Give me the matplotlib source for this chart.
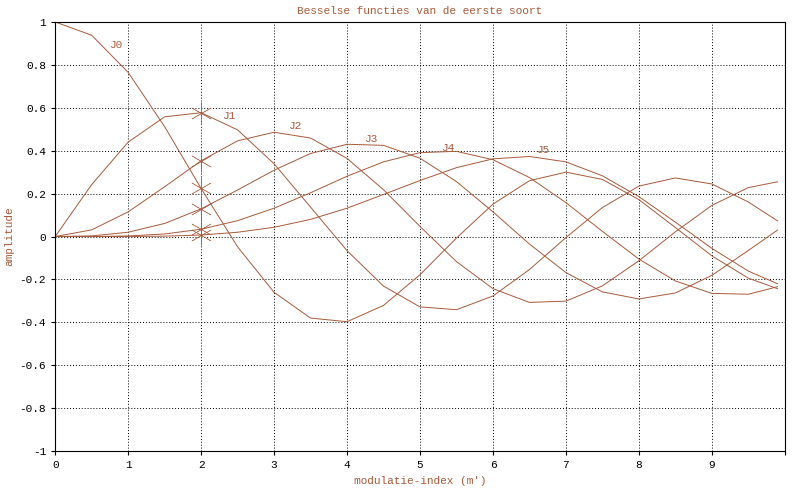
import matplotlib
matplotlib.use("Agg")
import matplotlib.pyplot as plt

plt.rcParams["font.family"] = ["Liberation Mono", "DejaVu Sans Mono"]

LINE_COLOR = "#a85a3a"

x_values = [0, 0.5, 1, 1.5, 2, 2.5, 3, 3.5, 4, 4.5, 5, 5.5, 6, 6.5, 7,
            7.5, 8, 8.5, 9, 9.5, 9.9]
j0 = [1, .938, .765, .512, .224, -.048, -.260, -.380, -.397, -.321, -.178,
      -.007, .151, .260, .300, .266, .172, .042, -.090, -.194, -.243]
j1 = [0, .242, .440, .558, .577, .497, .339, .137, -.066, -.231, -.328,
      -.341, -.277, -.154, -.005, .135, .235, .273, .245, .161, .073]
j2 = [0, .031, .115, .232, .353, .446, .486, .459, .364, .218, .047,
      -.117, -.243, -.307, -.301, -.230, -.113, .022, .145, .228, .255]
j3 = [0, .003, .020, .061, .129, .217, .309, .387, .430, .425, .365,
      .256, .115, -.035, -.168, -.258, -.291, -.263, -.181, -.065, .030]
j4 = [0, .0002, .0025, .012, .034, .074, .132, .204, .281, .348, .391,
      .397, .358, .275, .158, .024, -.105, -.207, -.265, -.269, -.234]
j5 = [0, 0, .0002, .0018, .007, .020, .043, .080, .132, .196, .261,
      .321, .362, .373, .348, .283, .186, .067, -.055, -.161, -.220]
series = {"J0": j0, "J1": j1, "J2": j2, "J3": j3, "J4": j4, "J5": j5}
label_pos = {"J0": (0.75, 0.88), "J1": (2.3, 0.55), "J2": (3.2, 0.5),
             "J3": (4.25, 0.44), "J4": (5.3, 0.4), "J5": (6.6, 0.39)}
marker_x = 2

fig = plt.figure(figsize=(8, 4.99), dpi=100)
ax = fig.add_axes([0.069, 0.096, 0.912, 0.86])

for name, values in series.items():
    ax.plot(x_values, values, color=LINE_COLOR, linewidth=0.7)
    idx = x_values.index(marker_x)
    ax.plot([marker_x], [values[idx]], marker=(6, 2, 0), markersize=16,
            color=LINE_COLOR, markeredgewidth=0.4, alpha=0.8)
    ax.text(*label_pos[name], name, color=LINE_COLOR, fontsize=8)

ax.set_xlim(0, 10)
ax.set_ylim(-1, 1)
ax.set_xticks(range(0, 11))
ax.set_xticklabels([str(i) for i in range(10)] + [""])
ax.set_yticks([-1, -0.8, -0.6, -0.4, -0.2, 0, 0.2, 0.4, 0.6, 0.8, 1])
ax.set_yticklabels(["-1", "-0.8", "-0.6", "-0.4", "-0.2", "0", "0.2",
                    "0.4", "0.6", "0.8", "1"])
ax.tick_params(labelsize=8, length=3)
ax.grid(True, color="black", linestyle=(0, (1, 2)), linewidth=0.7)
ax.set_title("Besselse functies van de eerste soort", color=LINE_COLOR,
             fontsize=8, pad=6)
ax.set_xlabel("modulatie-index (m')", color=LINE_COLOR, fontsize=8)
ax.set_ylabel("amplitude", color=LINE_COLOR, fontsize=8)

fig.savefig("out.png", dpi=100)
